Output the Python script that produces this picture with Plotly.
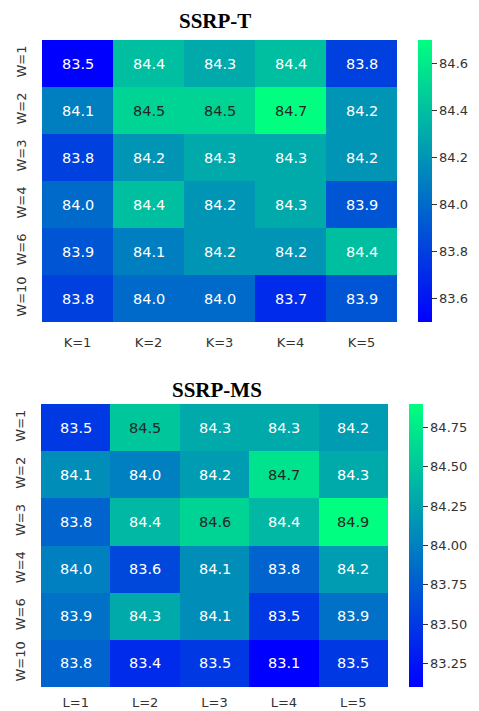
import plotly.graph_objects as go

# ---- data ----
rows = ["W=1", "W=2", "W=3", "W=4", "W=6", "W=10"]
cols_t = ["K=1", "K=2", "K=3", "K=4", "K=5"]
cols_ms = ["L=1", "L=2", "L=3", "L=4", "L=5"]

vals_t = [
    [83.5, 84.4, 84.3, 84.4, 83.8],
    [84.1, 84.5, 84.5, 84.7, 84.2],
    [83.8, 84.2, 84.3, 84.3, 84.2],
    [84.0, 84.4, 84.2, 84.3, 83.9],
    [83.9, 84.1, 84.2, 84.2, 84.4],
    [83.8, 84.0, 84.0, 83.7, 83.9],
]
vals_ms = [
    [83.5, 84.5, 84.3, 84.3, 84.2],
    [84.1, 84.0, 84.2, 84.7, 84.3],
    [83.8, 84.4, 84.6, 84.4, 84.9],
    [84.0, 83.6, 84.1, 83.8, 84.2],
    [83.9, 84.3, 84.1, 83.5, 83.9],
    [83.8, 83.4, 83.5, 83.1, 83.5],
]
ticks_t = [83.6, 83.8, 84.0, 84.2, 84.4, 84.6]
ticks_ms = [83.25, 83.50, 83.75, 84.00, 84.25, 84.50, 84.75]

W, H = 479, 711
winter = [[0.0, "rgb(0,0,255)"], [1.0, "rgb(0,255,128)"]]
TICKC = "#333333"


def lin(c):
    return c / 12.92 if c <= 0.04045 else ((c + 0.055) / 1.055) ** 2.4


def text_color(v, lo, hi):
    f = (v - lo) / (hi - lo)
    g, b = f, 1 - 0.5 * f
    lum = 0.7152 * lin(g) + 0.0722 * lin(b)
    return "#262626" if lum > 0.408 else "white"


def px_x(p):
    return p / W


def px_y(p):
    return 1 - p / H


fig = go.Figure()
annotations = []

panels = [
    dict(vals=vals_t, cols=cols_t, ticks=ticks_t, fmt=".1f", title="SSRP-T",
         x=(42, 397), y=(40, 322), cb=(418, 14), ty=21, tx=215, ax="", xs=11),
    dict(vals=vals_ms, cols=cols_ms, ticks=ticks_ms, fmt=".2f", title="SSRP-MS",
         x=(41, 388), y=(404, 687), cb=(409, 14), ty=390, tx=217, ax="2", xs=6),
]

for i, p in enumerate(panels):
    flat = [v for r in p["vals"] for v in r]
    lo, hi = min(flat), max(flat)
    xa = "x" + p["ax"]
    ya = "y" + p["ax"]
    fig.add_trace(go.Heatmap(
        z=p["vals"], x=p["cols"], y=rows, colorscale=winter, zmin=lo, zmax=hi,
        xaxis=xa, yaxis=ya, xgap=0, ygap=0,
        colorbar=dict(
            x=px_x(p["cb"][0]), xanchor="left", xpad=0, ypad=0,
            y=px_y(p["y"][0]), yanchor="top",
            len=p["y"][1] - p["y"][0], lenmode="pixels",
            thickness=p["cb"][1], thicknessmode="pixels",
            outlinewidth=0, ticks="outside", ticklen=5, tickwidth=1.2,
            tickcolor=TICKC, tickvals=p["ticks"], tickformat=p["fmt"],
            tickfont=dict(family="DejaVu Sans", size=13, color=TICKC),
        ),
        hoverinfo="skip",
    ))
    for r, row in enumerate(p["vals"]):
        for c, v in enumerate(row):
            annotations.append(dict(
                x=p["cols"][c], y=rows[r], xref=xa, yref=ya, text=f"{v:.1f}",
                showarrow=False,
                font=dict(family="DejaVu Sans", size=14.5, color=text_color(v, lo, hi)),
            ))
    annotations.append(dict(
        x=px_x(p["tx"]), y=px_y(p["ty"]), xref="paper", yref="paper",
        text="<b>" + p["title"] + "</b>", showarrow=False,
        xanchor="center", yanchor="middle",
        font=dict(family="Liberation Serif", size=21, color="black"),
    ))
    xkey = "xaxis" + p["ax"]
    ykey = "yaxis" + p["ax"]
    fig.update_layout(**{
        xkey: dict(domain=[px_x(p["x"][0]), px_x(p["x"][1])], anchor=ya,
                   showgrid=False, zeroline=False, showline=False, ticks="",
                   ticklabelstandoff=p["xs"], automargin=False,
                   tickfont=dict(family="DejaVu Sans", size=13, color=TICKC)),
        ykey: dict(domain=[px_y(p["y"][1]), px_y(p["y"][0])], anchor=xa,
                   autorange="reversed", showgrid=False, zeroline=False,
                   showline=False, ticks="", tickangle=-90,
                   ticklabelstandoff=12, automargin=False,
                   tickfont=dict(family="DejaVu Sans", size=13, color=TICKC)),
    })

fig.update_layout(
    width=W, height=H, margin=dict(l=0, r=0, t=0, b=0, autoexpand=False),
    paper_bgcolor="white", plot_bgcolor="white",
    annotations=annotations, showlegend=False,
)

fig.write_html(
    "out.html",
    config={"displayModeBar": False},
    post_script="document.body.style.margin='0px';document.body.style.overflow='hidden';",
)
